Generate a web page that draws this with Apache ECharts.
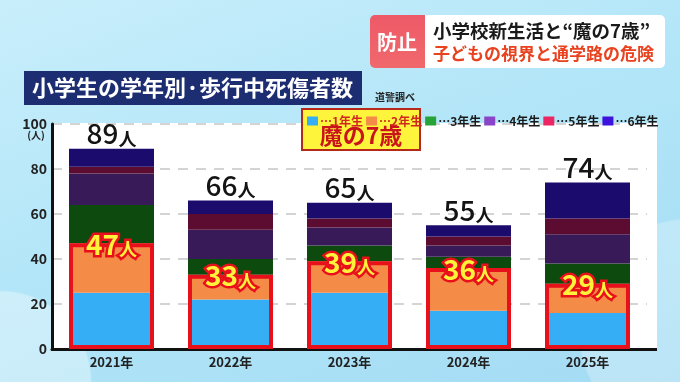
<!DOCTYPE html>
<html><head><meta charset="utf-8">
<script src="https://cdn.jsdelivr.net/npm/echarts@6/dist/echarts.min.js"></script>
<style>
html,body{margin:0;padding:0;}
#c{width:680px;height:382px;
background:
 radial-gradient(circle at 0px 382px, rgba(255,255,255,0.35) 0, rgba(255,255,255,0.35) 90px, rgba(255,255,255,0) 92px),
 radial-gradient(circle at 690px 330px, rgba(255,255,255,0.25) 0, rgba(255,255,255,0.25) 110px, rgba(255,255,255,0) 112px),
 linear-gradient(160deg,#c9eefb 0%,#b3e6f8 45%,#a4dcf4 100%);}
</style>
</head><body><div id="c"></div>
<script>
const categories = ['2021年','2022年','2023年','2024年','2025年'];
const grade1 = [25,22,25,17,16];
const grade2 = [22,11,14,19,13];
const grade3 = [17,7,7,5,9];
const grade4 = [14,13,8,5,13];
const grade5 = [3,7,4,4,7];
const grade6 = [8,6,7,5,16];
const seriesNames = ['1年生','2年生','3年生','4年生','5年生','6年生'];
const yTicks = [0,20,40,60,80,100];

const FF = "'Noto Sans CJK JP', sans-serif";
const grades = [grade1,grade2,grade3,grade4,grade5,grade6];
const age7 = grade1.map((v,i)=>v+grade2[i]);
const totals = grade1.map((_,i)=>grades.reduce((s,g)=>s+g[i],0));
const barColors = ['#35aef5','#f48b46','#0c4a0e','#381a58','#5c0c30','#1b0b6c'];
const legendColors = ['#35aef5','#f48b46','#27a33a','#8a44c8','#ec2563','#3d12dc'];

const chart = echarts.init(document.getElementById('c'), null, {renderer:'canvas'});

const series = grades.map((d,i)=>{
  const s = {name:seriesNames[i], type:'bar', stack:'all', barWidth:85, barGap:'-100%',
    data:d, itemStyle:{color:barColors[i]}, emphasis:{disabled:true}};
  if(i===5){
    s.label = {show:true, position:'top', distance:1,
      formatter:p=>'{n|'+totals[p.dataIndex]+'}{u|人}',
      rich:{n:{fontSize:28, color:'#141414', fontFamily:FF, fontWeight:500, lineHeight:30, verticalAlign:'bottom'},
            u:{fontSize:18, color:'#141414', fontFamily:FF, fontWeight:'bold', lineHeight:30, verticalAlign:'bottom'}}};
  }
  return s;
});
series.push({name:'魔の7歳', type:'bar', barWidth:85, barGap:'-100%', data:age7, z:5,
  itemStyle:{color:'rgba(0,0,0,0)', borderColor:'#e8111b', borderWidth:4},
  emphasis:{disabled:true},
  label:{show:true, position:'insideTop', offset:[0,-20],
    formatter:p=>'{n|'+p.value+'}{u|人}',
    rich:{n:{fontSize:28, fontWeight:'bold', color:'#fff23a', fontFamily:FF, textBorderColor:'#e8111b', textBorderWidth:5, lineHeight:30, verticalAlign:'bottom'},
          u:{fontSize:18, fontWeight:'bold', color:'#fff23a', fontFamily:FF, textBorderColor:'#e8111b', textBorderWidth:5, lineHeight:30, verticalAlign:'bottom'}}}
});

const option = {
  animation:false,
  textStyle:{fontFamily:FF},
  grid:{left:52, right:33, top:124, bottom:33, containLabel:false},
  legend:{left:302, top:110, icon:'rect', itemWidth:11, itemHeight:9, itemGap:3, selectedMode:false, z:10,
    data:seriesNames.map((n,i)=>({name:n, itemStyle:{color:legendColors[i]}, textStyle:{color:i<2?'#d0281e':'#1a1a1a'}})),
    formatter:n=>'…'+n,
    textStyle:{fontSize:12, fontWeight:'bold', fontFamily:FF, padding:[0,0,0,-3]}},
  xAxis:{type:'category', data:categories,
    axisLine:{lineStyle:{color:'#111', width:3}}, axisTick:{show:false},
    axisLabel:{color:'#222', fontSize:13, fontWeight:'bold', margin:7, fontFamily:FF}},
  yAxis:{type:'value', min:yTicks[0], max:yTicks[yTicks.length-1], interval:yTicks[1]-yTicks[0],
    axisLine:{show:true, lineStyle:{color:'#111', width:3}}, axisTick:{show:false},
    axisLabel:{color:'#222', fontSize:14, fontWeight:'bold', margin:5, fontFamily:FF},
    splitLine:{lineStyle:{color:'#c6c6c6', width:1.5, type:[10,8]}}},
  series:series,
  graphic:[
    {type:'rect', z:-1, shape:{x:52,y:123,width:605,height:226}, style:{fill:'#ffffff'}},
    {type:'line', z:3, shape:{x1:640,y1:349.5,x2:657,y2:349.5}, style:{stroke:'#111', lineWidth:3}},
    {type:'text', z:3, x:36, y:135, style:{text:'(人)', fill:'#222', font:'bold 10px '+FF, textAlign:'center', textVerticalAlign:'middle', align:'center', verticalAlign:'middle'}},
    // title bar
    {type:'rect', z:3, shape:{x:24,y:71,width:338,height:34}, style:{fill:'#1c2d72'}},
    {type:'text', z:4, x:32, y:88, style:{text:'小学生の学年別·歩行中死傷者数', fill:'#fff', font:'bold 22px '+FF, textVerticalAlign:'middle', verticalAlign:'middle'}},
    {type:'text', z:4, x:375, y:97, style:{text:'道警調べ', fill:'#222', font:'bold 10px '+FF, textVerticalAlign:'middle', verticalAlign:'middle'}},
    // badge
    {type:'rect', z:3, shape:{x:370,y:15,width:56,height:53,r:[5,0,0,5]},
      style:{fill:{type:'linear',x:0,y:0,x2:0,y2:1,colorStops:[{offset:0,color:'#ee5a68'},{offset:1,color:'#f0686c'}]}}},
    {type:'rect', z:3, shape:{x:425,y:15,width:240,height:53,r:[0,5,5,0]}, style:{fill:'#ffffff'}},
    {type:'text', z:4, x:397, y:42, style:{text:'防止', fill:'#fff', font:'bold 20px '+FF, textAlign:'center', textVerticalAlign:'middle', align:'center', verticalAlign:'middle'}},
    {type:'text', z:4, x:433, y:31, style:{text:'小学校新生活と“魔の7歳”', fill:'#1a1a1a', font:'bold 18.5px '+FF, textVerticalAlign:'middle', verticalAlign:'middle'}},
    {type:'text', z:4, x:433, y:54, style:{text:'子どもの視界と通学路の危険', fill:'#e8421f', font:'bold 17px '+FF, textVerticalAlign:'middle', verticalAlign:'middle'}},
    // yellow box
    {type:'rect', z:3, shape:{x:302,y:109,width:118,height:41}, style:{fill:'#fff43c', stroke:'#b5281a', lineWidth:2}},
    {type:'text', z:4, x:361, y:135, style:{text:'魔の7歳', fill:'#c8141a', font:'bold 23px '+FF, textAlign:'center', textVerticalAlign:'middle', align:'center', verticalAlign:'middle'}}
  ]
};
chart.setOption(option);
</script>
</body></html>
